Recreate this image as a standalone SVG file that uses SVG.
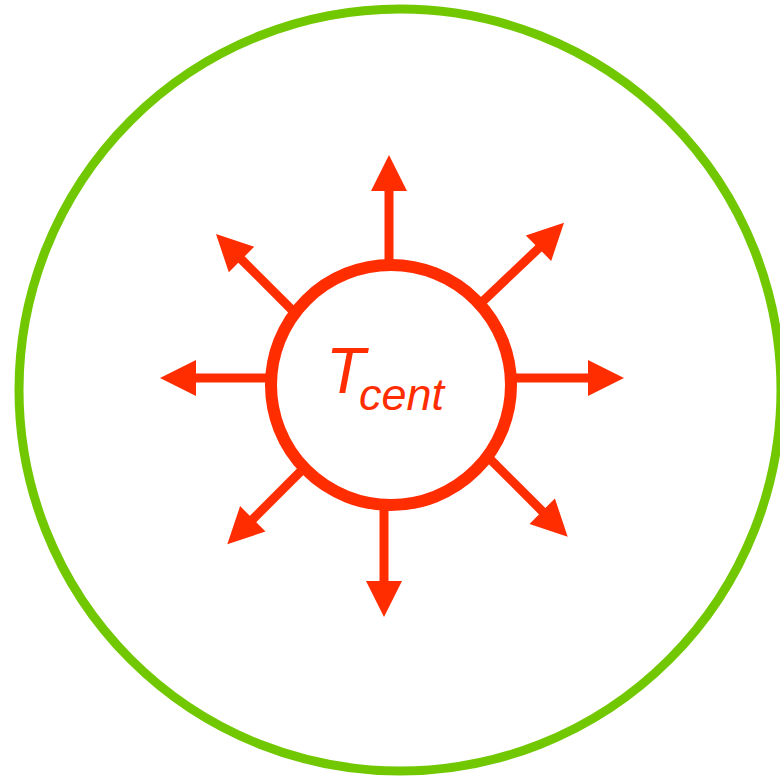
<svg xmlns="http://www.w3.org/2000/svg" width="780" height="779" viewBox="0 0 780 779">
<style>
.shaft{stroke:#FF2D00;stroke-width:9;fill:none}
.head{fill:#FF2D00}
.lbl{font-family:"Liberation Sans",Arial,sans-serif;font-style:italic;fill:#FF2D00}
</style>
<rect width="780" height="779" fill="#ffffff"/>
<g id="outer">
<circle cx="400" cy="390" r="381" fill="none" stroke="#72C800" stroke-width="9"/>
</g>
<g id="connectors">
<line class="shaft" x1="389" y1="265" x2="389" y2="188"/>
<polygon class="head" points="389,155 371,191 407,191"/>
<line class="shaft" x1="384" y1="505" x2="384" y2="584"/>
<polygon class="head" points="384,617 366,581 402,581"/>
<line class="shaft" x1="270" y1="378" x2="193" y2="378"/>
<polygon class="head" points="160,378 196,360 196,396"/>
<line class="shaft" x1="512" y1="378" x2="591" y2="378"/>
<polygon class="head" points="624,378 588,360 588,396"/>
<line class="shaft" x1="297" y1="315" x2="240" y2="258"/>
<polygon class="head" points="216,234 254.2,246.8 228.8,272.2"/>
<line class="shaft" x1="480" y1="304" x2="540" y2="247"/>
<polygon class="head" points="564,222.7 551.2,260.9 525.8,235.5"/>
<line class="shaft" x1="305" y1="467" x2="251" y2="521"/>
<polygon class="head" points="227.3,544.3 240.1,506.1 265.5,531.5"/>
<line class="shaft" x1="487" y1="456" x2="544" y2="513"/>
<polygon class="head" points="567.7,536.7 554.9,498.5 529.5,523.9"/>
</g>
<g id="center">
<circle cx="391" cy="385" r="120" fill="#ffffff" stroke="#FF2D00" stroke-width="12"/>
<text class="lbl" x="326" y="393" font-size="64">T</text>
<text class="lbl" x="359" y="410" font-size="45">cent</text>
</g>
</svg>
